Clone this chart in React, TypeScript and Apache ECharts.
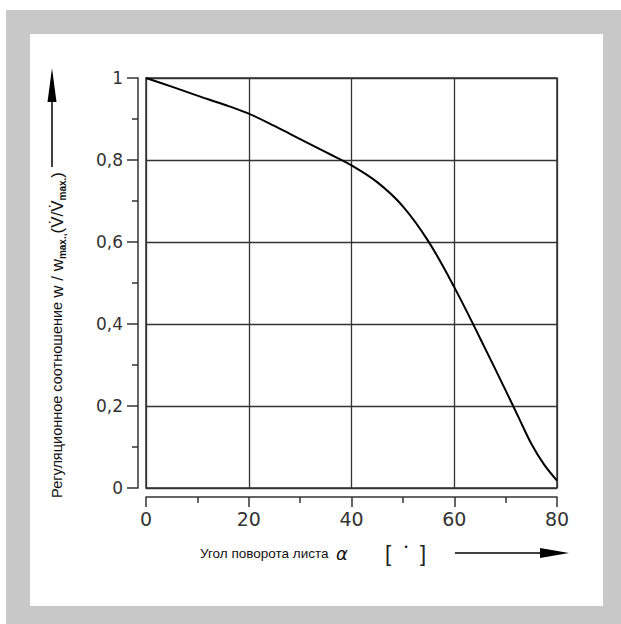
import React, { useEffect, useRef } from "react";
import * as echarts from "echarts";

const alphaDeg = [0, 5, 10, 15, 20, 25, 30, 35, 40, 45, 50, 55, 60, 65, 70, 72.5, 75, 77.5, 80];
const ratio = [1.0, 0.979, 0.957, 0.936, 0.913, 0.883, 0.851, 0.819, 0.787, 0.746, 0.687, 0.601, 0.49, 0.366, 0.238, 0.173, 0.108, 0.057, 0.018];
const xTicks = [0, 20, 40, 60, 80];
const yTicks = [0, 0.2, 0.4, 0.6, 0.8, 1];

const xTitle = "Угол поворота листа";
const yTitleMain = "Регуляционное соотношение ";

const FONT = "'Liberation Sans', Arial, sans-serif";
const NUMFONT = "'DejaVu Sans', sans-serif";
const LINE = "#333";

export default function App() {
  const ref = useRef<HTMLDivElement>(null);
  useEffect(() => {
    if (!ref.current) return;
    const chart = echarts.init(ref.current, undefined, { renderer: "svg" });
    const fmtY = (v: number) => {
      const r = Math.round(v * 10) / 10;
      if (r === 0) return "0";
      if (r === 1) return "1";
      return r.toFixed(1).replace(".", ",");
    };
    chart.setOption({
      animation: false,
      backgroundColor: "#fff",
      textStyle: { fontFamily: FONT },
      grid: {
        left: 146,
        top: 78,
        width: 411,
        height: 410,
        show: true,
        borderColor: LINE,
        borderWidth: 1.5,
      },
      xAxis: {
        type: "value",
        min: xTicks[0],
        max: xTicks[xTicks.length - 1],
        interval: xTicks[1] - xTicks[0],
        offset: 9,
        axisLine: { show: true, onZero: false, lineStyle: { color: LINE, width: 1.5 } },
        axisTick: { show: true, length: 10, lineStyle: { color: LINE, width: 1.5 } },
        minorTick: { show: true, splitNumber: 2, length: 6, lineStyle: { color: LINE, width: 1.5 } },
        splitLine: { show: true, lineStyle: { color: LINE, width: 1.3 } },
        axisLabel: { fontSize: 19, margin: 12, color: "#333", fontFamily: NUMFONT },
      },
      yAxis: {
        type: "value",
        min: yTicks[0],
        max: yTicks[yTicks.length - 1],
        interval: yTicks[1] - yTicks[0],
        offset: 8,
        axisLine: { show: true, onZero: false, lineStyle: { color: LINE, width: 1.5 } },
        axisTick: { show: true, length: 11, lineStyle: { color: LINE, width: 1.5 } },
        minorTick: { show: true, splitNumber: 2, length: 6, lineStyle: { color: LINE, width: 1.5 } },
        splitLine: { show: true, lineStyle: { color: LINE, width: 1.3 } },
        axisLabel: { fontSize: 17, margin: 15, color: "#333", fontFamily: NUMFONT, formatter: fmtY },
      },
      series: [
        {
          type: "line",
          data: alphaDeg.map((a, i) => [a, ratio[i]]),
          smooth: 0.35,
          symbol: "none",
          lineStyle: { color: "#000", width: 2 },
          z: 5,
        },
      ],
      graphic: [
        { type: "rect", z: -20, silent: true, shape: { x: 6, y: 10, width: 615, height: 614 }, style: { fill: "#c8c8c8" } },
        { type: "rect", z: -19, silent: true, shape: { x: 30, y: 34, width: 573, height: 572 }, style: { fill: "#fff" } },
        // Y arrow
        { type: "line", z: 10, shape: { x1: 52, y1: 167, x2: 52, y2: 100 }, style: { stroke: "#000", lineWidth: 1.5 } },
        { type: "polygon", z: 10, shape: { points: [[47.5, 102], [52, 68], [56.5, 102]] }, style: { fill: "#000" } },
        // X arrow
        { type: "line", z: 10, shape: { x1: 455, y1: 553, x2: 542, y2: 553 }, style: { stroke: "#000", lineWidth: 1.5 } },
        { type: "polygon", z: 10, shape: { points: [[540, 548], [569, 553], [540, 558]] }, style: { fill: "#000" } },
        // X title
        { type: "text", z: 10, x: 200, y: 553, style: { text: xTitle, fill: "#111", font: `13.5px ${FONT}`, align: "left", verticalAlign: "middle", textAlign: "left", textVerticalAlign: "middle" } },
        { type: "text", z: 10, x: 342, y: 553, style: { text: "α", fill: "#111", font: `italic 18px 'DejaVu Sans', sans-serif`, align: "center", verticalAlign: "middle", textAlign: "center", textVerticalAlign: "middle" } },
        { type: "text", z: 10, x: 388, y: 553, style: { text: "[", fill: "#222", font: `22px ${FONT}`, align: "center", verticalAlign: "middle", textAlign: "center", textVerticalAlign: "middle" } },
        { type: "text", z: 10, x: 406, y: 547, style: { text: "•", fill: "#111", font: `9px ${FONT}`, align: "center", verticalAlign: "middle", textAlign: "center", textVerticalAlign: "middle" } },
        { type: "text", z: 10, x: 423, y: 553, style: { text: "]", fill: "#222", font: `22px ${FONT}`, align: "center", verticalAlign: "middle", textAlign: "center", textVerticalAlign: "middle" } },
        // Y title (rotated)
        {
          type: "text",
          z: 10,
          x: 57,
          y: 172,
          rotation: Math.PI / 2,
          style: {
            text: `{n|${yTitleMain}}{b|w / w}{s|max.,}{b|(V̇/V̇}{s|max.}{b|)}`,
            align: "right",
            verticalAlign: "middle",
            textAlign: "right",
            textVerticalAlign: "middle",
            fill: "#111",
            rich: {
              n: { fontSize: 14.5, fontFamily: FONT, fill: "#111", color: "#111", lineHeight: 20, verticalAlign: "middle" },
              b: { fontSize: 17, fontFamily: FONT, fill: "#111", color: "#111", lineHeight: 20, verticalAlign: "middle" },
              s: { fontSize: 10, fontWeight: "bold", fontFamily: FONT, fill: "#111", color: "#111", lineHeight: 20, verticalAlign: "bottom" },
            },
          },
        },
      ],
    });
    return () => chart.dispose();
  }, []);
  return <div ref={ref} style={{ position: "fixed", left: 0, top: 0, width: 621, height: 624 }} />;
}
